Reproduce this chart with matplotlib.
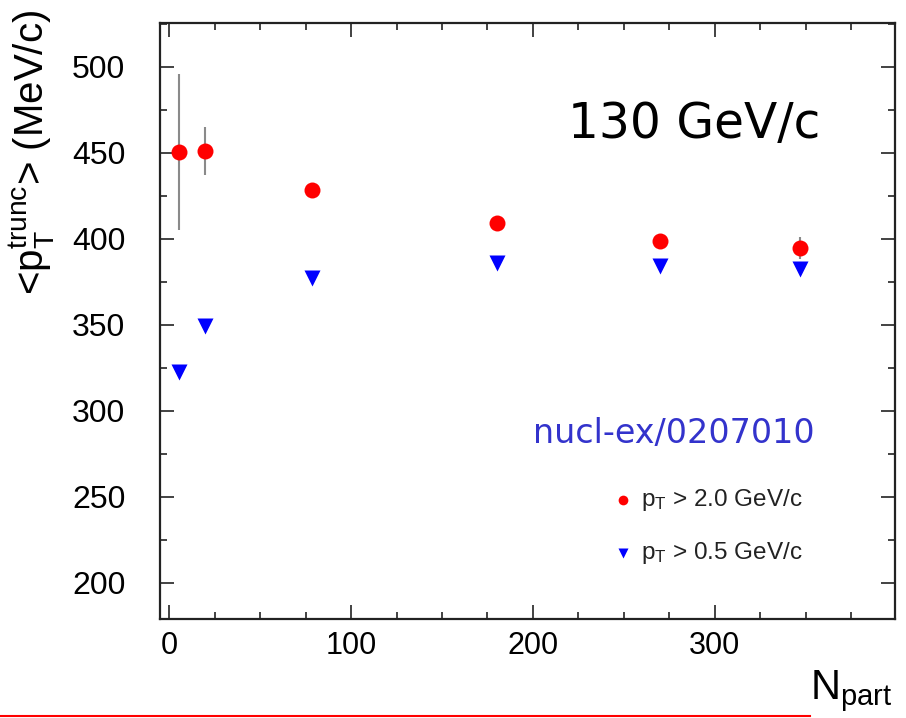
import matplotlib
matplotlib.use("Agg")
import matplotlib.pyplot as plt
from matplotlib.lines import Line2D
from matplotlib.ticker import MultipleLocator

# mean truncated pT vs number of participants, 130 GeV
npart = [5.7, 19.6, 78.6, 180, 270, 347]
pt_hi = [450.6, 451.3, 428.5, 409, 398.5, 394.5]       # pT > 2.0 GeV/c
pt_hi_err = [45.5, 14.0, 0, 0, 0, 6.5]
pt_lo = [322.3, 349.5, 377.3, 386.2, 384.5, 382.6]     # pT > 0.5 GeV/c

plt.rcParams['font.family'] = ['Liberation Sans', 'DejaVu Sans']
plt.rcParams['mathtext.fontset'] = 'custom'
plt.rcParams['mathtext.rm'] = 'Liberation Sans'
plt.rcParams['mathtext.it'] = 'Liberation Sans'

fig = plt.figure(figsize=(9.06, 7.18), dpi=100)
ax = fig.add_axes([0.1766, 0.1379, 0.8113, 0.8301])

ax.errorbar(npart, pt_hi, yerr=pt_hi_err, fmt='none', ecolor='#8a8a8a',
            elinewidth=1.5, capsize=0, zorder=2)
ax.plot(npart, pt_hi, 'o', color='#ff0000', ms=11.5, mec='none', zorder=3)
ax.plot(npart, pt_lo, 'v', color='#0000ff', ms=11.5, mec='none', zorder=3)

ax.set_xlim(-5, 399)
ax.set_ylim(179, 525.5)
ax.xaxis.set_major_locator(MultipleLocator(100))
ax.xaxis.set_minor_locator(MultipleLocator(25))
ax.yaxis.set_major_locator(MultipleLocator(50))
ax.yaxis.set_minor_locator(MultipleLocator(25))
ax.tick_params(which='both', direction='in', top=True, right=True, width=1.2, color='#222222')
ax.tick_params(which='major', length=10)
ax.tick_params(which='minor', length=5)
ax.tick_params(axis='y', which='major', labelsize=23, pad=25)
ax.tick_params(axis='x', which='major', labelsize=22, pad=9)
for sp in ax.spines.values():
    sp.set_linewidth(1.6)
    sp.set_color('#222222')

ax.set_ylabel(r'<p$_{\mathrm{T}}^{\mathrm{trunc}}$> (MeV/c)', fontsize=29, labelpad=2)
ax.yaxis.set_label_coords(-0.14, 0.782)
fig.text(0.985, 0.005, r'N$_{\mathrm{part}}$', fontsize=30, ha='right', va='bottom')

ax.text(0.898, 0.83, '130 GeV/c', transform=ax.transAxes, fontsize=35,
        ha='right', va='center', family='DejaVu Sans')
ax.text(0.891, 0.312, 'nucl-ex/0207010', transform=ax.transAxes, fontsize=24,
        ha='right', va='center', color='#3333cc', family='DejaVu Sans')

# legend entries
ax.plot([0.63], [0.199], 'o', color='#ff0000', ms=7, mec='none', transform=ax.transAxes)
ax.text(0.655, 0.199, r'p$_{\mathrm{T}}$ > 2.0 GeV/c', transform=ax.transAxes,
        fontsize=17.5, va='center', color='#222222')
ax.plot([0.63], [0.11], 'v', color='#0000ff', ms=6.5, mec='none', transform=ax.transAxes)
ax.text(0.655, 0.11, r'p$_{\mathrm{T}}$ > 0.5 GeV/c', transform=ax.transAxes,
        fontsize=17.5, va='center', color='#222222')

# red rule along the bottom of the slide
fig.add_artist(Line2D([0, 0.894], [0.003, 0.003], color='#ff0000', lw=1.5))

fig.savefig('out.png', dpi=100)
